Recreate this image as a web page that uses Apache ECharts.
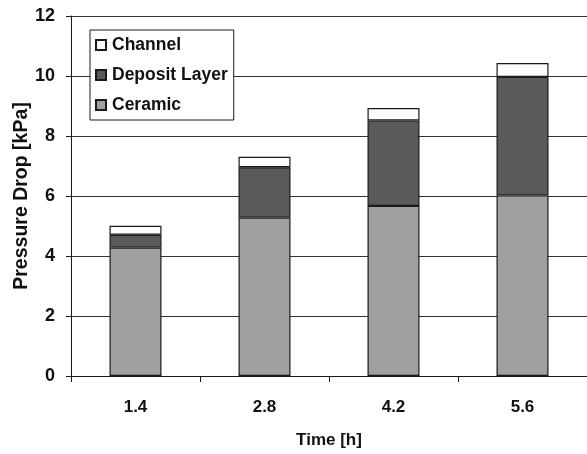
<!DOCTYPE html>
<html>
<head>
<meta charset="utf-8">
<script src="https://cdn.jsdelivr.net/npm/echarts@6/dist/echarts.min.js"></script>
<style>
  html, body { margin: 0; padding: 0; background: #fff; }
  #chart { width: 587px; height: 454px; }
</style>
</head>
<body>
<div id="chart"></div>
<script>
// Time points (h) and pressure-drop contributions (kPa)
const categories = ['1.4', '2.8', '4.2', '5.6'];
const ceramic = [4.28, 5.28, 5.67, 6.02];
const depositLayer = [0.43, 1.68, 2.85, 3.95];
const channel = [0.30, 0.35, 0.41, 0.46];
const yTicks = [0, 2, 4, 6, 8, 10, 12];

const FONT = '"Liberation Sans", Arial, sans-serif';
const edge = { borderColor: '#1a1a1a', borderWidth: 1.2 };

const chart = echarts.init(document.getElementById('chart'));
chart.setOption({
  animation: false,
  backgroundColor: '#ffffff',
  grid: { left: 71, right: -6, top: 16, bottom: 78, containLabel: false },
  legend: {
    orient: 'vertical',
    left: 90,
    top: 30,
    data: ['Channel', 'Deposit Layer', 'Ceramic'],
    backgroundColor: '#ffffff',
    borderColor: '#1a1a1a',
    borderWidth: 1,
    padding: [6, 6, 6, 5],
    itemWidth: 10,
    itemHeight: 10,
    itemGap: 12,
    icon: 'rect',
    textStyle: { fontFamily: FONT, fontSize: 17.5, fontWeight: 'bold', color: '#111', padding: [0, 0, 0, 1] }
  },
  xAxis: {
    type: 'category',
    data: categories,
    name: 'Time [h]',
    nameLocation: 'middle',
    nameGap: 56,
    nameMoveOverlap: false,
    nameTextStyle: { fontFamily: FONT, fontSize: 17, fontWeight: 'bold', color: '#111' },
    axisLine: { lineStyle: { color: '#1a1a1a', width: 1 } },
    axisTick: { show: true, length: 6, lineStyle: { color: '#1a1a1a' } },
    axisLabel: { margin: 23, fontFamily: FONT, fontSize: 17, fontWeight: 'bold', color: '#111' }
  },
  yAxis: {
    type: 'value',
    min: yTicks[0],
    max: yTicks[yTicks.length - 1],
    interval: yTicks[1] - yTicks[0],
    name: 'Pressure Drop [kPa]',
    nameLocation: 'middle',
    nameGap: 39,
    nameMoveOverlap: false,
    nameTextStyle: { fontFamily: FONT, fontSize: 19.5, fontWeight: 'bold', color: '#111' },
    axisLine: { show: true, lineStyle: { color: '#1a1a1a', width: 1 } },
    axisTick: { show: true, length: 5, inside: false, lineStyle: { color: '#1a1a1a' } },
    axisLabel: { margin: 16, fontFamily: FONT, fontSize: 18, fontWeight: 'bold', color: '#111' },
    splitLine: { show: true, lineStyle: { color: '#333333', width: 1 } }
  },
  series: [
    {
      name: 'Ceramic', type: 'bar', stack: 'total', data: ceramic, barWidth: 52,
      itemStyle: Object.assign({ color: '#a0a0a0' }, edge)
    },
    {
      name: 'Deposit Layer', type: 'bar', stack: 'total', data: depositLayer, barWidth: 52,
      itemStyle: Object.assign({ color: '#5a5a5a' }, edge)
    },
    {
      name: 'Channel', type: 'bar', stack: 'total', data: channel, barWidth: 52,
      itemStyle: Object.assign({ color: '#fdfdfd' }, edge)
    }
  ]
});
</script>
</body>
</html>
